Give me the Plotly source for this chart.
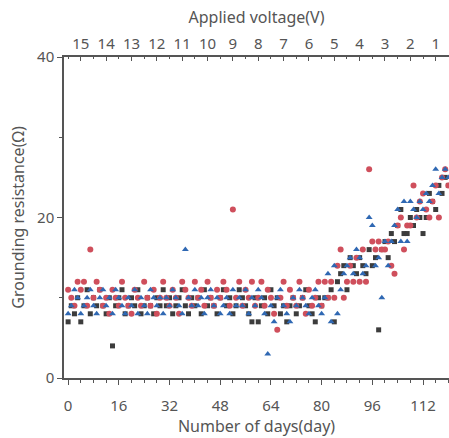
import plotly.graph_objects as go

days = list(range(0, 121))

black_vals = [
    7, 9, 8, 10, 7, 9, 11, 8, 10, 9,
    11, 9, 8, 10, 4, 9, 10, 11, 8, 9,
    10, 9, 11, 8, 9, 10, 9, 8, 10, 9,
    11, 9, 10, 8, 9, 10, 11, 9, 8, 10,
    9, 10, 8, 11, 9, 10, 9, 8, 10, 11,
    9, 10, 8, 9, 11, 10, 9, 8, 7, 10,
    7, 9, 10, 8, 11, 9, 10, 8, 9, 7,
    9, 10, 8, 9, 10, 11, 9, 8, 7, 10,
    9, 10, 10, 11, 7, 12, 13, 14, 11, 15,
    14, 13, 15, 14, 13, 16, 14, 15, 6, 16,
    17, 15, 18, 17, 19, 21, 18, 18, 20, 19,
    21, 20, 18, 20, 23, 22, 21, 24, 23, 25,
    24,
]

red_vals = [
    11, 10, 9, 12, 11, 12, 9, 16, 10, 12,
    11, 9, 10, 8, 11, 10, 9, 12, 10, 9,
    8, 11, 10, 9, 12, 10, 9, 11, 8, 10,
    12, 10, 9, 11, 10, 8, 12, 11, 10, 9,
    12, 10, 11, 9, 12, 10, 9, 11, 10, 12,
    11, 9, 21, 10, 12, 9, 11, 10, 12, 9,
    10, 12, 9, 11, 10, 8, 6, 10, 12, 9,
    11, 10, 9, 12, 10, 8, 11, 9, 10, 12,
    9, 12, 10, 12, 10, 14, 16, 10, 12, 14,
    12, 15, 12, 16, 12, 26, 17, 16, 17, 16,
    16, 17, 14, 13, 19, 20, 16, 19, 19, 24,
    20, 22, 23, 21, 20, 22, 24, 20, 25, 26,
    24,
]

blue_vals = [
    8, 9, 11, 10, 8, 9, 10, 11, 9, 8,
    10, 11, 9, 10, 8, 11, 10, 9, 8, 10,
    9, 11, 8, 10, 9, 8, 11, 10, 9, 10,
    8, 10, 9, 11, 10, 9, 8, 16, 10, 9,
    11, 9, 10, 8, 10, 11, 9, 10, 8, 9,
    10, 8, 11, 9, 10, 9, 11, 8, 10, 9,
    11, 10, 8, 3, 9, 7, 10, 11, 9, 8,
    7, 10, 9, 11, 10, 9, 8, 10, 11, 9,
    8, 10, 13, 7, 14, 8, 11, 13, 14, 15,
    13, 16, 15, 13, 14, 20, 19, 14, 15, 10,
    17, 14, 17, 19, 21, 17, 22, 17, 22, 21,
    20, 22, 21, 23, 22, 24, 26, 23, 25, 26,
    25,
]

x_ticks = [0, 16, 32, 48, 64, 80, 96, 112]
volt_pos = [4, 12, 20, 28, 36, 44, 52, 60, 68, 76, 84, 92, 100, 108, 116]
volt_labels = ["15", "14", "13", "12", "11", "10", "9", "8", "7", "6", "5", "4", "3", "2", "1"]
y_ticks = [0, 20, 40]

FONT = "Noto Sans"
GRAY = "#555555"

fig = go.Figure()
fig.add_trace(go.Scatter(x=days, y=black_vals, mode="markers",
                         marker=dict(symbol="square", size=5, color="#3c3c3c"),
                         showlegend=False))
fig.add_trace(go.Scatter(x=days, y=red_vals, mode="markers",
                         marker=dict(symbol="circle", size=6, color="#cf4f5c"),
                         showlegend=False))
fig.add_trace(go.Scatter(x=days, y=blue_vals, mode="markers",
                         marker=dict(symbol="triangle-up", size=6, color="#2f68b3"),
                         showlegend=False))
# invisible trace for top axis
fig.add_trace(go.Scatter(x=[days[0]], y=[black_vals[0]], xaxis="x2", mode="markers",
                         marker=dict(opacity=0), showlegend=False, hoverinfo="skip"))

xr = [-1.3, 120.2]
fig.update_layout(
    width=449, height=438,
    margin=dict(l=64, r=0, t=57, b=60),
    paper_bgcolor="white", plot_bgcolor="white",
    font=dict(family=FONT, color=GRAY, size=14),
    xaxis=dict(range=xr, tickmode="array", tickvals=x_ticks,
               ticks="outside", ticklen=5, tickcolor=GRAY, tickwidth=1,
               ticklabelstandoff=8,
               showline=True, linecolor=GRAY, linewidth=1.5, showgrid=False, zeroline=False,
               minor=dict(tickmode="linear", tick0=0, dtick=4, ticks="outside", ticklen=3, tickcolor=GRAY),
               title=dict(text="Number of days(day)", font=dict(size=16, color=GRAY), standoff=0),
               tickfont=dict(size=15, color=GRAY)),
    xaxis2=dict(range=xr, overlaying="x", side="top", tickmode="array",
                tickvals=volt_pos, ticktext=volt_labels,
                ticks="inside", ticklen=4, tickcolor=GRAY,
                showline=True, linecolor=GRAY, linewidth=1.5, showgrid=False, zeroline=False,
                minor=dict(tickmode="linear", tick0=0, dtick=4, ticks="inside", ticklen=2, tickcolor=GRAY),
                title=dict(text="Applied voltage(V)", font=dict(size=16, color=GRAY), standoff=6),
                tickfont=dict(size=15, color=GRAY)),
    yaxis=dict(range=[0, 40], tickmode="array", tickvals=y_ticks,
               ticks="outside", ticklen=5, tickcolor=GRAY,
               showline=True, linecolor=GRAY, linewidth=1.5, showgrid=False, zeroline=False,
               minor=dict(tickmode="linear", tick0=0, dtick=10, ticks="outside", ticklen=3, tickcolor=GRAY),
               title=dict(text="Grounding resistance(Ω)", font=dict(size=16, color=GRAY), standoff=8),
               tickfont=dict(size=15, color=GRAY)),
)

fig.write_html("out.html")
